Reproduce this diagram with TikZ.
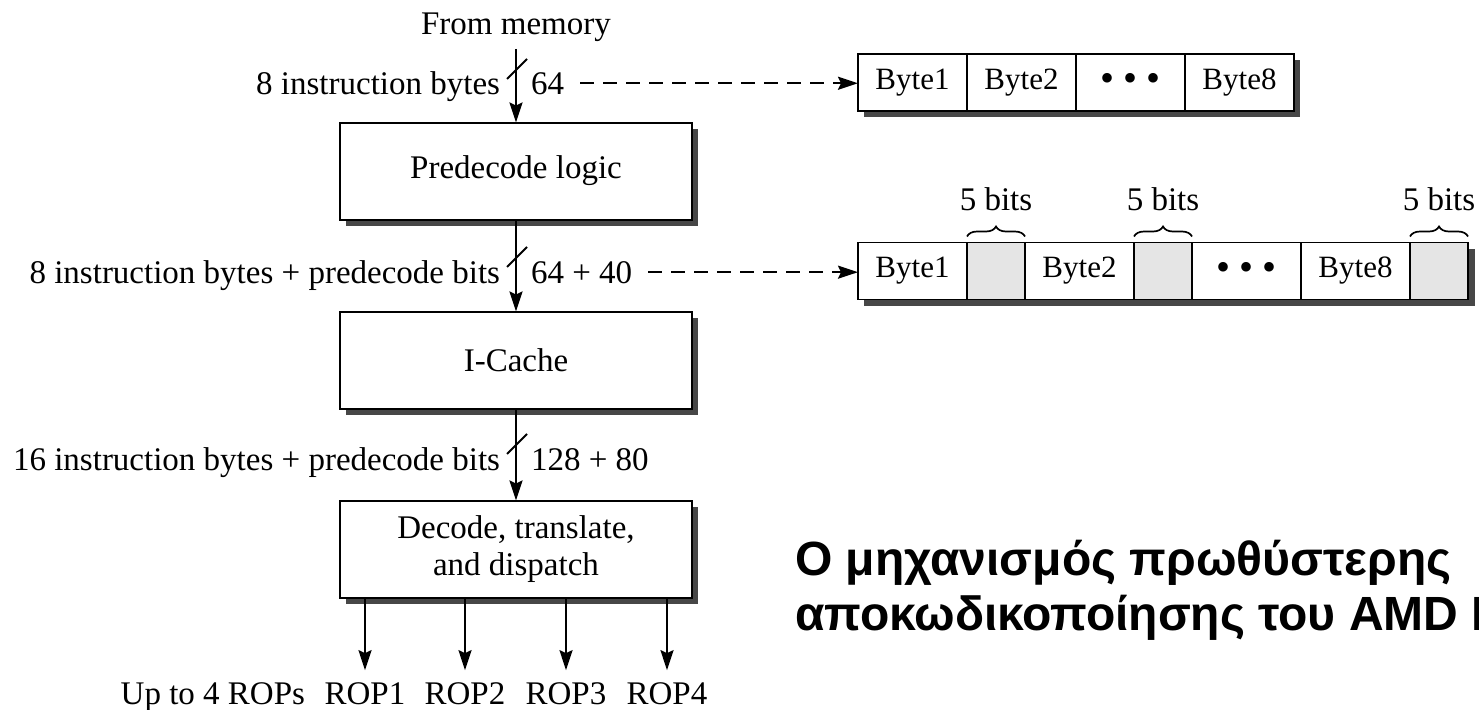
\documentclass[tikz,border=0pt]{standalone}
\usepackage{fontspec}
\setmainfont{Liberation Serif}
\newfontfamily\greekfont{Liberation Sans}
\usetikzlibrary{arrows.meta,decorations.pathreplacing,shadows}
\newcommand{\bdots}{{\fontsize{40}{40}\selectfont\textbullet\hspace{9pt}\textbullet\hspace{9pt}\textbullet}}
\begin{document}
\begin{tikzpicture}[x=1pt,y=-1pt,
  lbl/.style={inner sep=0pt, outer sep=0pt, font=\fontsize{33}{39}\selectfont},
  blockbox/.style={draw, line width=2pt, fill=white, minimum width=352pt, minimum height=97pt,
    inner sep=0pt, outer sep=0pt, font=\fontsize{33}{37}\selectfont, align=center,
    drop shadow={opacity=1, fill=black!72, shadow xshift=6pt, shadow yshift=-6pt}},
  cell/.style={draw, line width=1.8pt, fill=white, minimum height=57pt, inner sep=0pt, outer sep=0pt,
    font=\fontsize{31}{36}\selectfont, anchor=west},
  bytecell/.style={cell, minimum width=109pt},
  bitcell/.style={cell, fill=black!10, minimum width=58pt},
  flow/.style={line width=2.2pt, -{Stealth[length=20pt,width=13pt,inset=3pt]}},
  dashflow/.style={line width=2.2pt, dash pattern=on 14pt off 9pt, -{Stealth[length=20pt,width=13pt,inset=3pt]}},
  shadowfill/.style={fill=black!72},
  tick/.style={line width=1.8pt},
  brc/.style={decorate, decoration={brace, amplitude=10pt}, line width=1.7pt},
  greek/.style={inner sep=0pt, outer sep=0pt, anchor=base west, font=\greekfont\bfseries\fontsize{48}{55}\selectfont}
]
\useasboundingbox (0,0) rectangle (1479,709);
\fill[white] (0,0) rectangle (1479,709);
\clip (0,0) rectangle (1479,709);

% main blocks
\node[blockbox] (pre) at (516,171) {Predecode logic};
\node[blockbox] (ic) at (516,360) {I-Cache};
\node[blockbox] (dec) at (516,549) {Decode, translate,\\and dispatch};

% labels
\node[lbl, anchor=base] (mem) at (516,35) {From memory};
\node[lbl, anchor=base east] (l1) at (500,94) {8 instruction bytes};
\node[lbl, anchor=base west] (r1) at (531,94) {64};
\node[lbl, anchor=base east] (l2) at (500,283) {8 instruction bytes + predecode bits};
\node[lbl, anchor=base west] (r2) at (531,283) {64 + 40};
\node[lbl, anchor=base east] (l3) at (500,470) {16 instruction bytes + predecode bits};
\node[lbl, anchor=base west] (r3) at (531,470) {128 + 80};

% flow arrows
\coordinate (src) at (516,49);
\draw[flow] (src) -- (pre.north);
\draw[flow] (pre.south) -- (ic.north);
\draw[flow] (ic.south) -- (dec.north);

% bus ticks
\draw[tick] (507,79) -- (527,59);
\draw[tick] (507,267) -- (527,247);
\draw[tick] (507,454) -- (527,434);

% top byte row
\fill[shadowfill] (864,60) rectangle (1300,117);
\node[bytecell] (b11) at (858,82.5) {Byte1};
\node[bytecell] (b12) at (b11.east) {Byte2};
\node[bytecell] (b13) at (b12.east) {\bdots};
\node[bytecell] (b14) at (b13.east) {Byte8};

% bottom byte row
\fill[shadowfill] (864,248.5) rectangle (1475,305.5);
\node[bytecell] (b21) at (858,271) {Byte1};
\node[bitcell] (g1) at (b21.east) {};
\node[bytecell] (b22) at (g1.east) {Byte2};
\node[bitcell] (g2) at (b22.east) {};
\node[bytecell] (b23) at (g2.east) {\bdots};
\node[bytecell] (b24) at (b23.east) {Byte8};
\node[bitcell] (g3) at (b24.east) {};

% braces and 5 bits labels
\foreach \g in {g1,g2,g3}{
  \draw[brc] ([yshift=6pt]\g.north west) -- ([yshift=6pt]\g.north east);
  \node[lbl, anchor=base] at ([yshift=32pt]\g.north) {5 bits};
}

% dashed arrows
\draw[dashflow] ([xshift=16pt]r1.east) -- (r1.east -| b11.west);
\draw[dashflow] ([xshift=16pt]r2.east) -- (r2.east -| b21.west);

% outputs
\node[lbl, anchor=base east] (up) at (305,704) {Up to 4 ROPs};
\node[lbl, anchor=base] (rop1) at (365,704) {ROP1};
\node[lbl, anchor=base] (rop2) at (465,704) {ROP2};
\node[lbl, anchor=base] (rop3) at (566,704) {ROP3};
\node[lbl, anchor=base] (rop4) at (667,704) {ROP4};
\foreach \r in {rop1,rop2,rop3,rop4}{
  \coordinate (t\r) at ([yshift=12pt]\r.north);
  \draw[flow] (t\r |- dec.south) -- (t\r);
}

% caption
\node[greek] (cap1) at (795,575) {Ο μηχανισμός πρωθύστερης};
\node[greek] (cap2) at (795,630) {αποκωδικοποίησης του AMD K5};
\end{tikzpicture}
\end{document}
